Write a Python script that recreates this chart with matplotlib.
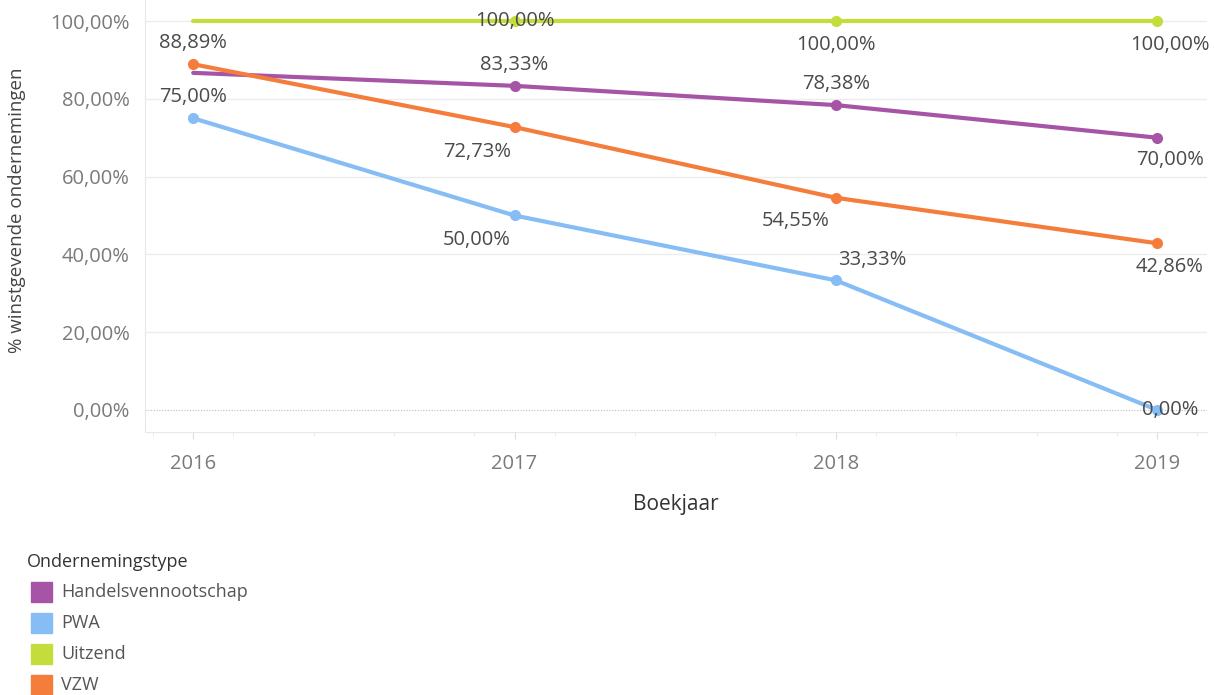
"""Aandeel winstgevende ondernemingen per ondernemingstype, 2016-2019."""
import matplotlib
matplotlib.use("Agg")
import matplotlib.pyplot as plt
from matplotlib.patches import Rectangle

plt.rcParams["font.family"] = ["Open Sans", "DejaVu Sans"]

years = [2016, 2017, 2018, 2019]
types = ["Handelsvennootschap", "PWA", "Uitzend", "VZW"]
handels = [86.67, 83.33, 78.38, 70.00]
pwa = [75.00, 50.00, 33.33, 0.00]
uitzend = [100.00, 100.00, 100.00, 100.00]
vzw = [88.89, 72.73, 54.55, 42.86]
colors = ["#a655a6", "#86bdf5", "#c4dc3c", "#f57d3c"]

# welke punten een label krijgen (Tableau verbergt overlappende labels)
show = {
    "Handelsvennootschap": [False, True, True, True],
    "PWA": [True, True, True, True],
    "Uitzend": [False, True, True, True],
    "VZW": [True, True, True, True],
}
# label-offsets in punten (dx, dy)
offsets = {
    "Handelsvennootschap": [(0, 0), (0, 15), (0, 15), (9, -16)],
    "PWA": [(0, 15), (-27, -18), (26, 15), (9, 0)],
    "Uitzend": [(0, 0), (0, 0), (0, -17), (9, -17)],
    "VZW": [(0, 15), (-27, -18), (-29, -17), (9, -17)],
}

series = dict(zip(types, [handels, pwa, uitzend, vzw]))

fig = plt.figure(figsize=(12.14, 6.95), dpi=100)
ax = fig.add_axes([145 / 1214, 1 - 432 / 695, 1062 / 1214, 432 / 695])

ax.set_xlim(2015.85, 2019.155)
ax.set_ylim(-5.66, 105.4)

for yv in [20, 40, 60, 80, 100]:
    ax.axhline(yv, color="#ececec", lw=1, zorder=0)
ax.axhline(0, color="#bbbbbb", lw=0.8, ls=(0, (1, 1.5)), zorder=0)

for name, col in zip(types, colors):
    vals = series[name]
    ax.plot(years, vals, color=col, lw=3, solid_capstyle="round", zorder=2)
    xs = [y for y, s in zip(years, show[name]) if s]
    ys = [v for v, s in zip(vals, show[name]) if s]
    ax.plot(xs, ys, "o", color=col, ms=7, zorder=3)
    for yr, v, s, (dx, dy) in zip(years, vals, show[name], offsets[name]):
        if not s:
            continue
        ax.annotate(f"{v:.2f}%".replace(".", ","), (yr, v), xytext=(dx, dy),
                    textcoords="offset points", ha="center", va="center",
                    fontsize=14.5, color="#4a4a4a", zorder=4, annotation_clip=False)

ax.set_yticks([0, 20, 40, 60, 80, 100])
ax.set_yticklabels([f"{t},00%" for t in [0, 20, 40, 60, 80, 100]])
ax.set_xticks(years)
ax.set_xticklabels([str(y) for y in years])
ax.set_xticks([2015.875 + i * 0.25 for i in range(14)], minor=True)
ax.tick_params(axis="y", length=0, pad=11, labelsize=14.5, labelcolor="#7a7a7a")
ax.tick_params(axis="x", which="major", length=5, color="#dddddd", pad=11,
               labelsize=14.5, labelcolor="#7a7a7a")
ax.tick_params(axis="x", which="minor", length=3, color="#e6e6e6")

for side in ["top", "right"]:
    ax.spines[side].set_visible(False)
ax.spines["left"].set_color("#e8e8e8")
ax.spines["bottom"].set_color("#e8e8e8")

ax.set_xlabel("Boekjaar", fontsize=15, color="#333333", labelpad=14)
fig.text(17 / 1214, 1 - 210 / 695, "% winstgevende ondernemingen", rotation=90,
         ha="center", va="center", fontsize=13.5, color="#444444")

# legenda
fig.text(27 / 1214, 1 - 562 / 695, "Ondernemingstype", ha="left", va="center",
         fontsize=13, color="#333333")
for i, (name, col) in enumerate(zip(types, colors)):
    yc = 592 + i * 31
    fig.patches.append(Rectangle((31 / 1214, 1 - (yc + 10) / 695), 21 / 1214, 20 / 695,
                                 transform=fig.transFigure, color=col))
    fig.text(61 / 1214, 1 - yc / 695, name, ha="left", va="center",
             fontsize=13, color="#555555")

fig.savefig("out.png", dpi=100)
